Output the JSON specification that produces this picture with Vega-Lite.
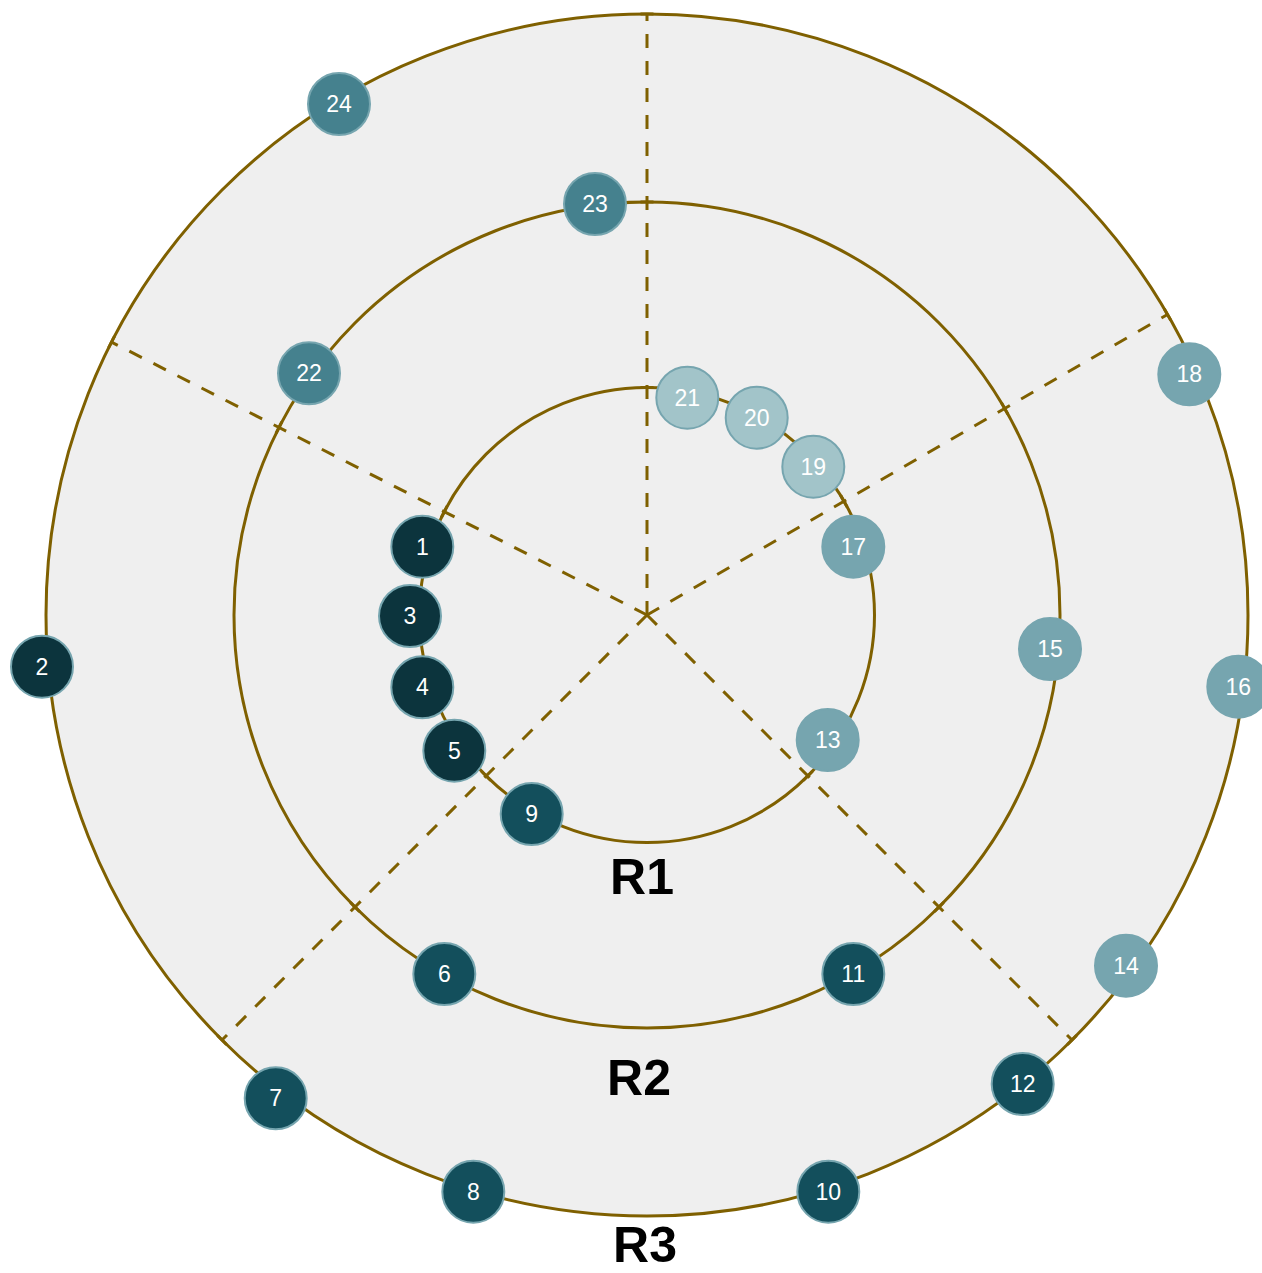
{
  "$schema": "https://vega.github.io/schema/vega-lite/v6.json",
  "width": 1262,
  "height": 1273,
  "autosize": {"type": "none"},
  "padding": 0,
  "background": "#ffffff",
  "config": {"view": {"stroke": null}},
  "datasets": {
    "rings": [
      {"ring": "R1", "r": 227.5},
      {"ring": "R2", "r": 413},
      {"ring": "R3", "r": 601}
    ],
    "spokes": [
      {"x1": 0, "y1": 0, "x2": 0, "y2": 601},
      {"x1": 0, "y1": 0, "x2": 520.5, "y2": 300.5},
      {"x1": 0, "y1": 0, "x2": 425, "y2": -425},
      {"x1": 0, "y1": 0, "x2": -425, "y2": -425},
      {"x1": 0, "y1": 0, "x2": -535.5, "y2": 272.9}
    ],
    "ticks": [
      {"x": 0, "y": 227.5, "angle": 0},
      {"x": 0, "y": 413, "angle": 0},
      {"x": 0, "y": 601, "angle": 0},
      {"x": 197.0, "y": 113.75, "angle": 60},
      {"x": 357.7, "y": 206.5, "angle": 60},
      {"x": 520.5, "y": 300.5, "angle": 60},
      {"x": 160.9, "y": -160.9, "angle": 135},
      {"x": 292.0, "y": -292.0, "angle": 135},
      {"x": 425.0, "y": -425.0, "angle": 135},
      {"x": -160.9, "y": -160.9, "angle": 225},
      {"x": -292.0, "y": -292.0, "angle": 225},
      {"x": -425.0, "y": -425.0, "angle": 225},
      {"x": -202.7, "y": 103.3, "angle": 297},
      {"x": -368.0, "y": 187.5, "angle": 297},
      {"x": -535.5, "y": 272.9, "angle": 297}
    ],
    "points": [
      {"id": "1", "group": "A", "x": -224.7, "y": 68.3},
      {"id": "2", "group": "A", "x": -605, "y": -51.7},
      {"id": "3", "group": "A", "x": -237, "y": -1},
      {"id": "4", "group": "A", "x": -224.7, "y": -72.3},
      {"id": "5", "group": "A", "x": -192.7, "y": -135.7},
      {"id": "6", "group": "B", "x": -202.7, "y": -359},
      {"id": "7", "group": "B", "x": -371.3, "y": -483.3},
      {"id": "8", "group": "B", "x": -173.7, "y": -576.7},
      {"id": "9", "group": "B", "x": -115.3, "y": -199},
      {"id": "10", "group": "B", "x": 181.3, "y": -576.7},
      {"id": "11", "group": "B", "x": 206.3, "y": -359},
      {"id": "12", "group": "B", "x": 375.7, "y": -469},
      {"id": "13", "group": "C", "x": 180.7, "y": -125},
      {"id": "14", "group": "C", "x": 479, "y": -350.7},
      {"id": "15", "group": "C", "x": 403, "y": -34},
      {"id": "16", "group": "C", "x": 591.3, "y": -71.7},
      {"id": "17", "group": "C", "x": 206.3, "y": 68.3},
      {"id": "18", "group": "C", "x": 542.3, "y": 240.7},
      {"id": "19", "group": "D", "x": 166.3, "y": 148.3},
      {"id": "20", "group": "D", "x": 109.7, "y": 197.3},
      {"id": "21", "group": "D", "x": 40.3, "y": 217.3},
      {"id": "22", "group": "E", "x": -338, "y": 241.7},
      {"id": "23", "group": "E", "x": -52, "y": 411},
      {"id": "24", "group": "E", "x": -308, "y": 511}
    ],
    "ringLabels": [
      {"label": "R1", "x": -5, "y": -264},
      {"label": "R2", "x": -8, "y": -465},
      {"label": "R3", "x": -2, "y": -632}
    ]
  },
  "resolve": {"scale": {"x": "shared", "y": "shared"}},
  "layer": [
    {
      "data": {"name": "rings"},
      "transform": [{"filter": "datum.ring === 'R3'"}],
      "mark": {"type": "arc", "theta": 0, "theta2": 6.2832, "fill": "#efefef", "stroke": null},
      "encoding": {
        "x": {"datum": 0, "type": "quantitative", "scale": {"domain": [-647, 615], "nice": false, "zero": false}, "axis": null},
        "y": {"datum": 0, "type": "quantitative", "scale": {"domain": [-658, 615], "nice": false, "zero": false}, "axis": null},
        "radius": {"field": "r", "type": "quantitative", "stack": null, "scale": {"type": "linear", "zero": true, "domain": [0, 601], "range": [0, 601]}}
      }
    },
    {
      "data": {"name": "rings"},
      "mark": {"type": "arc", "theta": 0, "theta2": 6.2832, "filled": false, "fill": null, "stroke": "#7f6000", "strokeWidth": 3},
      "encoding": {
        "x": {"datum": 0, "type": "quantitative"},
        "y": {"datum": 0, "type": "quantitative"},
        "radius": {"field": "r", "type": "quantitative", "stack": null, "scale": {"type": "linear", "zero": true, "domain": [0, 601], "range": [0, 601]}}
      }
    },
    {
      "data": {"name": "spokes"},
      "mark": {"type": "rule", "stroke": "#7f6000", "strokeWidth": 3, "strokeDash": [14, 13]},
      "encoding": {
        "x": {"field": "x1", "type": "quantitative"},
        "y": {"field": "y1", "type": "quantitative"},
        "x2": {"field": "x2"},
        "y2": {"field": "y2"}
      }
    },
    {
      "data": {"name": "ticks"},
      "mark": {"type": "point", "shape": "M-1,0L1,0", "filled": false, "stroke": "#7f6000", "strokeWidth": 3, "size": 169, "opacity": 1},
      "encoding": {
        "x": {"field": "x", "type": "quantitative"},
        "y": {"field": "y", "type": "quantitative"},
        "angle": {"field": "angle", "type": "quantitative", "scale": null}
      }
    },
    {
      "data": {"name": "points"},
      "mark": {"type": "point", "shape": "circle", "filled": true, "size": 3844, "stroke": "#76a5af", "strokeWidth": 2, "opacity": 1},
      "encoding": {
        "x": {"field": "x", "type": "quantitative"},
        "y": {"field": "y", "type": "quantitative"},
        "color": {
          "field": "group",
          "type": "nominal",
          "scale": {"domain": ["A", "B", "C", "D", "E"], "range": ["#0c343d", "#134f5c", "#76a5af", "#a2c4c9", "#45818e"]},
          "legend": null
        }
      }
    },
    {
      "data": {"name": "points"},
      "mark": {"type": "text", "font": "Liberation Sans", "fontSize": 23, "fill": "#ffffff", "align": "center", "baseline": "middle", "dy": 1},
      "encoding": {
        "x": {"field": "x", "type": "quantitative"},
        "y": {"field": "y", "type": "quantitative"},
        "text": {"field": "id"}
      }
    },
    {
      "data": {"name": "ringLabels"},
      "mark": {"type": "text", "font": "Liberation Sans Narrow, Liberation Sans, sans-serif", "fontSize": 50, "fontWeight": "bold", "fill": "#000000", "align": "center", "baseline": "middle"},
      "encoding": {
        "x": {"field": "x", "type": "quantitative"},
        "y": {"field": "y", "type": "quantitative"},
        "text": {"field": "label"}
      }
    }
  ]
}
